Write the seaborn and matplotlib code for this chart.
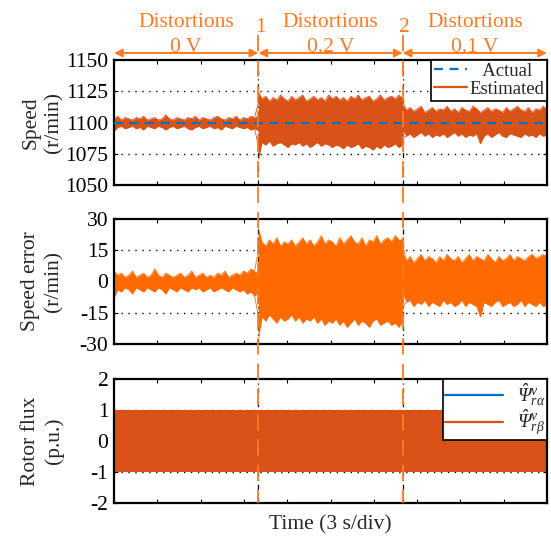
import numpy as np
import pandas as pd
import matplotlib
matplotlib.use("Agg")
import matplotlib.pyplot as plt
import seaborn as sns
from matplotlib.lines import Line2D

# ----------------------------
# Data (noise band envelopes, 40 samples per segment)
# ----------------------------
SEGMENTS_S = [(0, 10), (10, 20), (20, 30)]
SEG_NAMES = ["0 V", "0.2 V", "0.1 V"]
EVENT_TIMES = [10, 20]
EVENT_LABELS = ["1", "2"]

SPEED_REF = 1100

speed_upper = [
    # 0 V
    1103, 1105, 1102, 1104, 1103, 1102, 1104, 1103, 1105, 1102, 1103, 1104, 1102, 1103, 1106, 1103, 1102, 1104, 1103, 1102,
    1104, 1103, 1105, 1102, 1104, 1103, 1102, 1104, 1105, 1103, 1102, 1104, 1103, 1105, 1102, 1104, 1103, 1105, 1104, 1107,
    # 0.2 V
    1125, 1119, 1121, 1117, 1120, 1118, 1122, 1119, 1117, 1121, 1118, 1120, 1122, 1117, 1119, 1121, 1118, 1120, 1117, 1122,
    1119, 1121, 1118, 1120, 1117, 1121, 1119, 1122, 1118, 1120, 1121, 1117, 1119, 1122, 1118, 1120, 1121, 1119, 1122, 1120,
    # 0.1 V
    1114, 1110, 1112, 1109, 1111, 1113, 1108, 1110, 1112, 1109, 1111, 1110, 1113, 1109, 1111, 1108, 1112, 1110, 1109, 1113,
    1111, 1108, 1110, 1112, 1109, 1111, 1110, 1108, 1112, 1109, 1111, 1113, 1110, 1109, 1112, 1108, 1111, 1110, 1113, 1110,
]
speed_lower = [
    1093, 1096, 1097, 1095, 1096, 1097, 1095, 1096, 1094, 1097, 1096, 1095, 1097, 1096, 1094, 1096, 1097, 1095, 1096, 1097,
    1095, 1094, 1096, 1097, 1095, 1096, 1097, 1095, 1096, 1094, 1097, 1096, 1095, 1097, 1096, 1095, 1096, 1094, 1095, 1093,
    1070, 1084, 1082, 1085, 1081, 1083, 1084, 1082, 1080, 1083, 1082, 1084, 1081, 1083, 1080, 1082, 1084, 1081, 1083, 1082,
    1080, 1082, 1081, 1079, 1082, 1080, 1081, 1083, 1079, 1081, 1080, 1078, 1081, 1079, 1082, 1080, 1081, 1083, 1080, 1082,
    1093, 1089, 1091, 1088, 1090, 1092, 1089, 1091, 1088, 1090, 1089, 1091, 1088, 1090, 1092, 1089, 1091, 1088, 1090, 1089,
    1091, 1083, 1089, 1091, 1088, 1090, 1092, 1089, 1088, 1091, 1090, 1089, 1088, 1091, 1089, 1090, 1088, 1091, 1089, 1090,
]

err_upper = [
    5, 3, 4, 2, 3, 5, 2, 3, 4, 2, 3, 6, 3, 2, 4, 3, 2, 3, 4, 2,
    3, 5, 2, 3, 4, 2, 3, 2, 4, 3, 5, 2, 3, 4, 3, 5, 4, 6, 5, 4,
    26, 19, 17, 20, 18, 21, 17, 19, 18, 20, 17, 19, 21, 18, 20, 17, 19, 22, 18, 20,
    19, 17, 21, 18, 20, 22, 19, 18, 21, 17, 20, 19, 22, 18, 20, 21, 19, 22, 20, 21,
    14, 10, 12, 9, 11, 13, 10, 12, 11, 9, 12, 10, 13, 11, 10, 12, 9, 11, 13, 10,
    12, 11, 10, 13, 11, 9, 12, 10, 11, 13, 10, 12, 11, 10, 12, 13, 11, 12, 13, 12,
]
err_lower = [
    -8, -4, -5, -3, -4, -6, -3, -4, -5, -3, -4, -5, -3, -4, -6, -3, -4, -5, -3, -4,
    -5, -3, -4, -3, -5, -4, -3, -5, -4, -3, -4, -5, -3, -4, -5, -4, -6, -5, -7, -5,
    -28, -17, -19, -16, -18, -20, -17, -19, -18, -16, -19, -17, -20, -18, -19, -17, -20, -18, -21, -19,
    -20, -18, -21, -19, -22, -20, -18, -21, -19, -20, -22, -19, -18, -21, -20, -19, -21, -20, -22, -19,
    -6, -10, -9, -12, -10, -11, -9, -12, -10, -11, -12, -9, -11, -10, -12, -11, -9, -12, -10, -11,
    -12, -17, -10, -11, -12, -10, -9, -12, -11, -10, -12, -11, -9, -12, -10, -11, -12, -10, -12, -11,
]

FLUX_PEAK = 1.0

C_BLUE = "#0072BD"
C_EST = "#D95319"
C_ERR = "#FF6A00"
C_ANN = "#FF7A21"

# sample times: 40 per segment
t = np.concatenate([np.linspace(a, b, 40) for a, b in SEGMENTS_S])
df = pd.DataFrame({
    "t": t,
    "speed_hi": speed_upper, "speed_lo": speed_lower,
    "err_hi": err_upper, "err_lo": err_lower,
})

sns.set_theme(style="white")
plt.rcParams["font.family"] = ["Liberation Serif", "DejaVu Serif"]
# italic Greek capitals for the flux legend
plt.rcParams["mathtext.fontset"] = "custom"
plt.rcParams["mathtext.rm"] = "Liberation Serif:italic"
plt.rcParams["mathtext.it"] = "Liberation Serif:italic"
FS = 15.5

fig = plt.figure(figsize=(5.51, 5.44), dpi=100)
W, H = 551, 544
L, R = 114, 547


def add_ax(top_px, bot_px):
    return fig.add_axes([L / W, 1 - bot_px / H, (R - L) / W, (bot_px - top_px) / H])


ax1 = add_ax(60, 185)
ax2 = add_ax(219, 344)
ax3 = add_ax(379, 503)


def style(ax, ylim, yticks, ylabel):
    ax.set_xlim(0, 30)
    ax.set_ylim(*ylim)
    ax.set_yticks(yticks)
    ax.set_yticklabels([str(v) for v in yticks], fontsize=FS)
    ax.set_xticks(np.arange(0, 31, 3))
    ax.set_xticklabels([])
    ax.tick_params(direction="in", length=3, width=0.8, top=True, right=True,
                   bottom=True, left=True, colors="black", pad=4)
    for s in ax.spines.values():
        s.set_color("black")
        s.set_linewidth(1.6)
    for yv in yticks[1:-1]:
        ax.axhline(yv, color="black", ls=(0, (1, 4)), lw=1, zorder=0.5)
    for tv in EVENT_TIMES:
        ax.axvline(tv, color="black", ls=(0, (4, 3, 1, 3)), lw=0.9, zorder=0.5)
    ax.set_ylabel(ylabel, fontsize=FS, linespacing=1.3, ha="center", va="center")
    ax.yaxis.set_label_coords(-0.165, 0.5)
    ax.set_xlabel("")


# ---- speed
ax1.fill_between(df["t"], df["speed_lo"], df["speed_hi"], color=C_EST, lw=0, zorder=2)
sns.lineplot(data=df, x="t", y="speed_hi", ax=ax1, color=C_EST, lw=0.6, zorder=2)
sns.lineplot(data=df, x="t", y="speed_lo", ax=ax1, color=C_EST, lw=0.6, zorder=2)
ax1.axhline(SPEED_REF, color=C_BLUE, ls=(0, (4, 3)), lw=1.6, zorder=3)
style(ax1, (1050, 1150), [1050, 1075, 1100, 1125, 1150], "Speed\n(r/min)")
leg1 = ax1.legend(handles=[Line2D([], [], color=C_BLUE, ls=(0, (4, 3)), lw=1.6),
                           Line2D([], [], color=C_EST, lw=1.6)],
                  labels=["   Actual", "Estimated"], loc="upper right", bbox_to_anchor=(1.0, 1.0),
                  borderaxespad=0, fancybox=False, framealpha=1, edgecolor="black",
                  fontsize=13.5, handlelength=1.8, handletextpad=0.1, labelspacing=0.05,
                  borderpad=0.15)
leg1.get_frame().set_linewidth(1.2)

# ---- speed error
ax2.fill_between(df["t"], df["err_lo"], df["err_hi"], color=C_ERR, lw=0, zorder=2)
sns.lineplot(data=df, x="t", y="err_hi", ax=ax2, color=C_ERR, lw=0.6, zorder=2)
sns.lineplot(data=df, x="t", y="err_lo", ax=ax2, color=C_ERR, lw=0.6, zorder=2)
style(ax2, (-30, 30), [-30, -15, 0, 15, 30], "Speed error\n(r/min)")

# ---- rotor flux
ax3.fill_between([0, 30], [-FLUX_PEAK, -FLUX_PEAK], [FLUX_PEAK, FLUX_PEAK],
                 color=C_BLUE, lw=0, zorder=2)
ax3.fill_between([0, 30], [-FLUX_PEAK * 0.99] * 2, [FLUX_PEAK * 0.99] * 2,
                 color=C_EST, lw=0, zorder=2.1)
style(ax3, (-2, 2), [-2, -1, 0, 1, 2], "Rotor flux\n(p.u.)")
ax3.set_xlabel("Time (3 s/div)", fontsize=FS, labelpad=5)
leg3 = ax3.legend(handles=[Line2D([], [], color=C_BLUE, lw=1.6),
                           Line2D([], [], color=C_EST, lw=1.6)],
                  labels=[r"$\hat{\Psi}^{v}_{r\alpha}$", r"$\hat{\Psi}^{v}_{r\beta}$"],
                  loc="upper right", bbox_to_anchor=(1.0, 1.0), borderaxespad=0,
                  fancybox=False, framealpha=1, edgecolor="black", fontsize=14,
                  handlelength=3.0, handletextpad=0.7, labelspacing=0.0, borderpad=0.1)
leg3.get_frame().set_linewidth(1.2)
leg3.set_zorder(5)

# ---- segment annotations above the top panel
tr = ax1.get_xaxis_transform()
for (a, b), name in zip(SEGMENTS_S, SEG_NAMES):
    ax1.annotate("", xy=(b, 1.056), xytext=(a, 1.056), xycoords=tr, textcoords=tr,
                 arrowprops=dict(arrowstyle="<|-|>", color=C_ANN, lw=1.4,
                                 mutation_scale=12, shrinkA=0, shrinkB=0),
                 annotation_clip=False)
    mid = (a + b) / 2
    ax1.text(mid, 1.30, "Distortions", transform=tr, ha="center", va="center",
             color=C_ANN, fontsize=FS)
    ax1.text(mid, 1.10, name, transform=tr, ha="center", va="center",
             color=C_ANN, fontsize=FS)

for tv, lab in zip(EVENT_TIMES, EVENT_LABELS):
    ax1.text(tv + 0.15, 1.26, lab, transform=tr, ha="center", va="center",
             color=C_ANN, fontsize=FS)
    xf = (L + (R - L) * tv / 30) / W
    fig.add_artist(Line2D([xf, xf], [1 - 35 / H, 1 - 503 / H], transform=fig.transFigure,
                          color=C_ANN, lw=1.3, ls=(0, (9, 5)), zorder=10))

fig.savefig("out.png", dpi=100)
